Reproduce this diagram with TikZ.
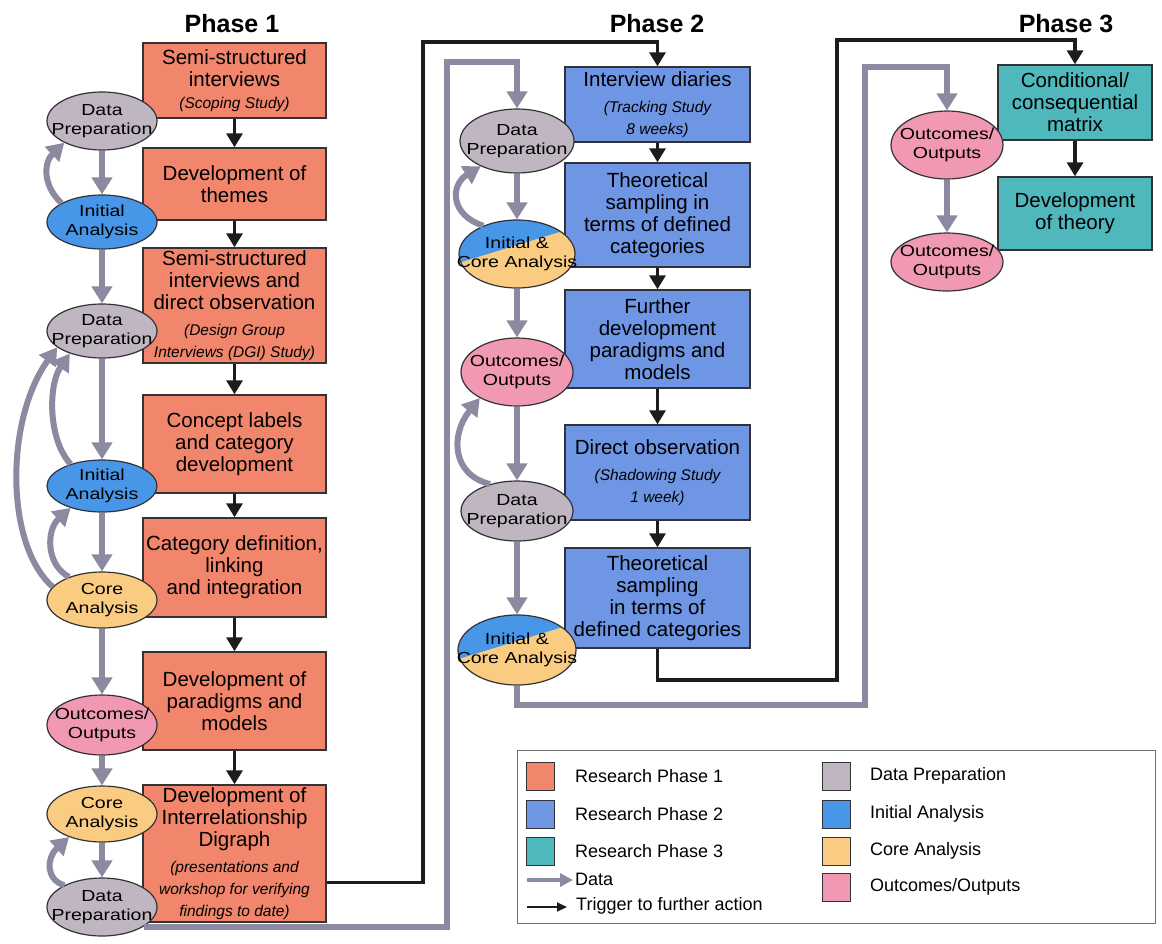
\documentclass[tikz,border=0pt]{standalone}
\usepackage{fontspec}
\setmainfont{Liberation Sans}
\newfontfamily\ovalface{Liberation Sans}[FakeStretch=1.22]
\usetikzlibrary{arrows.meta,shapes.geometric,calc}

\definecolor{phaseone}{RGB}{241,134,108}
\definecolor{phasetwo}{RGB}{110,150,228}
\definecolor{phasethree}{RGB}{78,184,188}
\definecolor{dataprep}{RGB}{192,182,194}
\definecolor{initan}{RGB}{72,150,232}
\definecolor{corean}{RGB}{250,204,130}
\definecolor{outc}{RGB}{241,152,178}
\definecolor{datagrey}{RGB}{140,138,160}
\definecolor{trigblack}{RGB}{28,28,28}
\definecolor{edgecol}{RGB}{50,50,55}
\definecolor{legedge}{RGB}{110,110,115}

\newcommand{\bxfont}{\fontsize{20.5}{22}\selectfont}
\newcommand{\subtxt}{\fontsize{15.5}{17.5}\selectfont\itshape}
\newcommand{\ovfont}{\ovalface\fontsize{16}{18.5}\selectfont}
\newcommand{\legfont}{\fontsize{18}{20}\selectfont}
\newcommand{\ttlfont}{\fontsize{25}{28}\selectfont\bfseries}

\begin{document}
\begin{tikzpicture}[x=1pt,y=-1pt,
  stage/.style={draw=edgecol, line width=1.4pt, inner sep=2pt, align=center, font=\bxfont},
  p1/.style={stage, fill=phaseone, minimum width=183pt},
  p2/.style={stage, fill=phasetwo, minimum width=185pt},
  p3/.style={stage, fill=phasethree, minimum width=154pt},
  oval/.style={ellipse, draw=edgecol, line width=1.2pt, inner sep=0pt},
  ovtext/.style={align=center, font=\ovfont, inner sep=0pt},
  splitoval/.style={oval, path picture={
    \fill[corean] (path picture bounding box.south west) rectangle (path picture bounding box.north east);
    \fill[initan] ($(path picture bounding box.center)+(-75,14)$) -- ($(path picture bounding box.center)+(75,-32)$)
      -- ($(path picture bounding box.center)+(75,-60)$) -- ($(path picture bounding box.center)+(-75,-60)$) -- cycle;}},
  dataflow/.style={draw=datagrey, line width=6pt, -{Triangle[width=20pt,length=17pt]}},
  trigflow/.style={draw=trigblack, line width=3.2pt, -{Triangle[width=16pt,length=14pt]}},
  swatch/.style={draw=edgecol, line width=0.8pt, minimum size=28pt, inner sep=0pt},
  legtext/.style={anchor=west, font=\legfont, inner sep=0pt},
  ttl/.style={font=\ttlfont, inner sep=0pt}]

\useasboundingbox (0,0) rectangle (1162,943);
\fill[white] (0,0) rectangle (1162,943);

% phase titles
\node[ttl] (T1) at (232,24) {Phase 1};
\node[ttl] (T2) at (657,24) {Phase 2};
\node[ttl] (T3) at (1066,24) {Phase 3};

% ---------- research phase 1 ----------
\node[p1, minimum height=75pt] (A1) at (234.5,80.5) {Semi-structured\\interviews\\{\subtxt (Scoping Study)}};
\node[p1, minimum height=72pt] (A2) at (234.5,184) {Development of\\themes};
\node[p1, minimum height=115pt] (A3) at (234.5,305.5) {Semi-structured\\interviews and\\direct observation\\[4pt]{\subtxt (Design Group}\\{\subtxt Interviews (DGI) Study)}};
\node[p1, minimum height=98pt] (A4) at (234.5,444) {Concept labels\\and category\\development};
\node[p1, minimum height=99pt] (A5) at (234.5,567.5) {Category definition,\\linking\\and integration};
\node[p1, minimum height=98pt] (A6) at (234.5,701) {Development of\\paradigms and\\models};
\node[p1, minimum height=137pt] (A7) at (234.5,853.5) {Development of\\Interrelationship\\Digraph\\[4pt]{\subtxt (presentations and}\\{\subtxt workshop for verifying}\\{\subtxt findings to date)}};

% ---------- research phase 2 ----------
\node[p2, minimum height=75pt] (B1) at (657.5,104.5) {Interview diaries\\[4pt]{\subtxt (Tracking Study}\\{\subtxt 8 weeks)}};
\node[p2, minimum height=104pt] (B2) at (657.5,215) {Theoretical\\sampling in\\terms of defined\\categories};
\node[p2, minimum height=98pt] (B3) at (657.5,339) {Further\\development\\paradigms and\\models};
\node[p2, minimum height=95pt] (B4) at (657.5,472.5) {Direct observation\\[4pt]{\subtxt (Shadowing Study}\\{\subtxt 1 week)}};
\node[p2, minimum height=100pt] (B5) at (657.5,598) {Theoretical\\sampling\\in terms of\\defined categories};

% ---------- research phase 3 ----------
\node[p3, minimum height=75pt] (C1) at (1075,102.5) {Conditional/\\consequential\\matrix};
\node[p3, minimum height=73pt] (C2) at (1075,213.5) {Development\\of theory};

% triggers between stages
\foreach \u/\v in {A1/A2,A2/A3,A3/A4,A4/A5,A5/A6,A6/A7,B1/B2,B2/B3,B3/B4,B4/B5,C1/C2}
  \draw[trigflow] (\u.south) -- (\v.north);

% ---------- analysis ovals ----------
\node[oval, fill=dataprep, minimum width=110pt, minimum height=58pt] (E1) at (102,121) {};
\node[oval, fill=initan,   minimum width=110pt, minimum height=54pt] (E2) at (102,222) {};
\node[oval, fill=dataprep, minimum width=110pt, minimum height=54pt] (E3) at (102,331) {};
\node[oval, fill=initan,   minimum width=110pt, minimum height=52pt] (E4) at (102,486) {};
\node[oval, fill=corean,   minimum width=110pt, minimum height=56pt] (E5) at (102,600) {};
\node[oval, fill=outc,     minimum width=110pt, minimum height=60pt] (E6) at (102,725) {};
\node[oval, fill=corean,   minimum width=110pt, minimum height=56pt] (E7) at (102,814) {};
\node[oval, fill=dataprep, minimum width=110pt, minimum height=58pt] (E8) at (102,907) {};

\node[oval, fill=dataprep, minimum width=114pt, minimum height=64pt] (E9)  at (517,141) {};
\node[splitoval,           minimum width=116pt, minimum height=68pt] (E10) at (517,254) {};
\node[oval, fill=outc,     minimum width=112pt, minimum height=68pt] (E11) at (517,372) {};
\node[oval, fill=dataprep, minimum width=112pt, minimum height=60pt] (E12) at (517,511) {};
\node[splitoval,           minimum width=118pt, minimum height=70pt] (E13) at (517,650) {};

\node[oval, fill=outc, minimum width=112pt, minimum height=68pt] (E14) at (947,145) {};
\node[oval, fill=outc, minimum width=112pt, minimum height=58pt] (E15) at (947,262) {};

% oval captions
\node[ovtext] (E1t) at (E1) {Data\\Preparation};
\node[ovtext] (E2t) at (E2) {Initial\\Analysis};
\node[ovtext] (E3t) at (E3) {Data\\Preparation};
\node[ovtext] (E4t) at (E4) {Initial\\Analysis};
\node[ovtext] (E5t) at (E5) {Core\\Analysis};
\node[ovtext] (E6t) at (E6) {Outcomes/\\Outputs};
\node[ovtext] (E7t) at (E7) {Core\\Analysis};
\node[ovtext] (E8t) at (E8) {Data\\Preparation};
\node[ovtext] (E9t) at (E9) {Data\\Preparation};
\node[ovtext] (E10t) at (E10) {Initial \&\\Core Analysis};
\node[ovtext] (E11t) at (E11) {Outcomes/\\Outputs};
\node[ovtext] (E12t) at (E12) {Data\\Preparation};
\node[ovtext] (E13t) at (E13) {Initial \&\\Core Analysis};
\node[ovtext] (E14t) at (E14) {Outcomes/\\Outputs};
\node[ovtext] (E15t) at (E15) {Outcomes/\\Outputs};

% data flow down each column
\foreach \u/\v in {E1/E2,E2/E3,E3/E4,E4/E5,E5/E6,E6/E7,E7/E8,E9/E10,E10/E11,E11/E12,E12/E13,E14/E15}
  \draw[dataflow] (\u.south) -- (\v.north);

% data fed back to earlier steps
\draw[dataflow] (E2.155) .. controls (42,185) and (44,162) .. (E1.210);
\draw[dataflow] (E4.145) .. controls (48,440) and (48,385) .. (E3.215);
\draw[dataflow] (E5.165) .. controls (5,545) and (5,420) .. (E3.200);
\draw[dataflow] (E5.145) .. controls (46,565) and (46,530) .. (E4.215);
\draw[dataflow] (E8.150) .. controls (46,880) and (46,858) .. (E7.215);
\draw[dataflow] (E10.140) .. controls (450,215) and (450,185) .. (E9.215);
\draw[dataflow] (E12.135) .. controls (452,475) and (450,435) .. (E11.215);

% links from phase 1 to phase 2
\coordinate (k1) at (423,42);
\coordinate (g1) at (447,62);
\draw[trigflow] ($(A7.east)+(0,29)$) -| (k1) -| (B1.north);
\draw[dataflow] (E8.-25) -| (g1) -| (E9.north);

% links from phase 2 to phase 3
\coordinate (k2a) at (837,680);
\coordinate (k2b) at (837,40);
\coordinate (g2a) at (865,705);
\coordinate (g2b) at (865,67);
\draw[trigflow] (B5.south) |- (k2a) -- (k2b) -| (C1.north);
\draw[dataflow] (E13.south) |- (g2a) -- (g2b) -| (E14.north);

% ---------- legend ----------
\node[draw=legedge, line width=1pt, minimum width=638pt, minimum height=173pt, inner sep=0pt] (leg) at (836,836.5) {};
\node[swatch, fill=phaseone]   (s1) at (540,776) {};
\node[swatch, fill=phasetwo]   (s2) at (540,814) {};
\node[swatch, fill=phasethree] (s3) at (540,851) {};
\node[legtext] (l1) at (575,776) {Research Phase 1};
\node[legtext] (l2) at (575,814) {Research Phase 2};
\node[legtext] (l3) at (575,851) {Research Phase 3};
\coordinate (da0) at (527,880);
\coordinate (da1) at (573,880);
\coordinate (tr0) at (527,907);
\coordinate (tr1) at (567,907);
\draw[draw=datagrey, line width=4pt, -{Triangle[width=13pt,length=13pt]}] (da0) -- (da1);
\draw[draw=trigblack, line width=1.8pt, -{Triangle[width=9pt,length=10pt]}] (tr0) -- (tr1);
\node[legtext] (l4) at (575,879) {Data};
\node[legtext] (l5) at (576,906) {Trigger to further action};
\node[swatch, fill=dataprep] (s4) at (836,776) {};
\node[swatch, fill=initan]   (s5) at (836,814) {};
\node[swatch, fill=corean]   (s6) at (836,851) {};
\node[swatch, fill=outc]     (s7) at (836,887) {};
\node[legtext] (l6) at (870,776) {Data Preparation};
\node[legtext] (l7) at (870,814) {Initial Analysis};
\node[legtext] (l8) at (870,851) {Core Analysis};
\node[legtext] (l9) at (870,887) {Outcomes/Outputs};
\end{tikzpicture}
\end{document}
